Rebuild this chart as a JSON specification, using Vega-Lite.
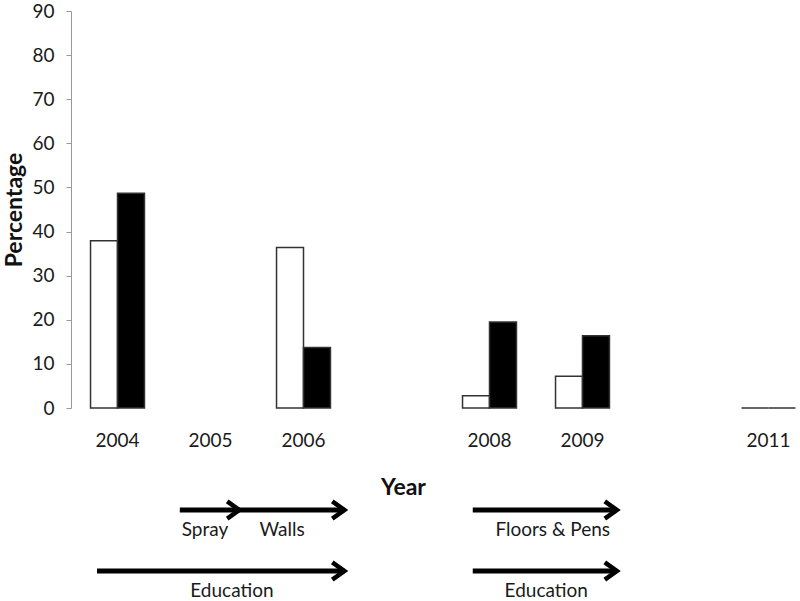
{
  "$schema": "https://vega.github.io/schema/vega-lite/v6.json",
  "padding": {"left": 3, "top": 2, "right": 0, "bottom": 0},
  "bounds": "flush",
  "spacing": 102,
  "config": {"font": "Lato", "view": {"stroke": null}},
  "datasets": {
    "bars": [
      {"year": "2004", "series": "Group 1", "percentage": 37.9},
      {"year": "2004", "series": "Group 2", "percentage": 48.7},
      {"year": "2006", "series": "Group 1", "percentage": 36.4},
      {"year": "2006", "series": "Group 2", "percentage": 13.7},
      {"year": "2008", "series": "Group 1", "percentage": 2.8},
      {"year": "2008", "series": "Group 2", "percentage": 19.5},
      {"year": "2009", "series": "Group 1", "percentage": 7.2},
      {"year": "2009", "series": "Group 2", "percentage": 16.4},
      {"year": "2011", "series": "Group 1", "percentage": 0},
      {"year": "2011", "series": "Group 2", "percentage": 0}
    ],
    "arrows": [
      {"track": "Measures", "label": "Spray", "start": 2004.67, "end": 2005.31, "label_at": 2004.94},
      {"track": "Measures", "label": "Walls", "start": 2005.31, "end": 2006.44, "label_at": 2005.77},
      {"track": "Measures", "label": "Floors & Pens", "start": 2007.82, "end": 2009.37, "label_at": 2008.68},
      {"track": "Education", "label": "Education", "start": 2003.78, "end": 2006.44, "label_at": 2005.23},
      {"track": "Education", "label": "Education", "start": 2007.82, "end": 2009.37, "label_at": 2008.61}
    ]
  },
  "vconcat": [
    {
      "width": 728,
      "height": 397,
      "data": {"name": "bars"},
      "mark": {"type": "bar", "stroke": "#333333", "strokeWidth": 1.5},
      "encoding": {
        "x": {
          "field": "year",
          "type": "nominal",
          "scale": {
            "domain": ["2004", "2005", "2006", "2007", "2008", "2009", "2010", "2011"],
            "range": [0, 744],
            "paddingInner": 0.42,
            "paddingOuter": 0.21
          },
          "axis": {
            "title": "Year",
            "labelAngle": 0,
            "domain": false,
            "ticks": false,
            "tickSize": 0,
            "labelPadding": 23,
            "labelFontSize": 19,
            "labelColor": "#1a1a1a",
            "labelExpr": "datum.value == '2007' || datum.value == '2010' ? '' : datum.value",
            "titleFontSize": 23,
            "titleFontWeight": "bold",
            "titleColor": "#111111",
            "titleX": 332,
            "titlePadding": 26
          }
        },
        "xOffset": {"field": "series", "type": "nominal", "sort": ["Group 1", "Group 2"]},
        "y": {
          "field": "percentage",
          "type": "quantitative",
          "scale": {"domain": [0, 90], "nice": false},
          "axis": {
            "title": "Percentage",
            "values": [0, 10, 20, 30, 40, 50, 60, 70, 80, 90],
            "grid": false,
            "domainColor": "#999999",
            "tickColor": "#999999",
            "tickSize": 5,
            "labelPadding": 12,
            "labelFontSize": 19,
            "labelColor": "#1a1a1a",
            "titleFontSize": 23,
            "titleFontWeight": "bold",
            "titleColor": "#111111",
            "titlePadding": 5
          }
        },
        "fill": {
          "field": "series",
          "type": "nominal",
          "scale": {"domain": ["Group 1", "Group 2"], "range": ["#ffffff", "#000000"]},
          "legend": null
        }
      }
    },
    {
      "width": 728,
      "height": 61,
      "data": {"name": "arrows"},
      "encoding": {
        "y": {
          "field": "track",
          "type": "nominal",
          "scale": {"type": "point", "domain": ["Measures", "Education"], "padding": 0},
          "axis": null
        }
      },
      "layer": [
        {
          "mark": {"type": "rule", "strokeWidth": 5, "color": "#000000"},
          "encoding": {
            "x": {
              "field": "start",
              "type": "quantitative",
              "scale": {"domain": [2003.5, 2011.5], "range": [0, 744], "nice": false, "zero": false},
              "axis": null
            },
            "x2": {"field": "end"}
          }
        },
        {
          "mark": {
            "type": "point",
            "shape": "M-1.4,-1L0,0L-1.4,1",
            "filled": false,
            "stroke": "#000000",
            "strokeWidth": 4.5,
            "size": 300,
            "opacity": 1
          },
          "encoding": {"x": {"field": "end", "type": "quantitative"}}
        },
        {
          "mark": {"type": "text", "fontSize": 19, "dy": 20, "color": "#1a1a1a"},
          "encoding": {
            "x": {"field": "label_at", "type": "quantitative"},
            "text": {"field": "label"}
          }
        }
      ]
    }
  ]
}
